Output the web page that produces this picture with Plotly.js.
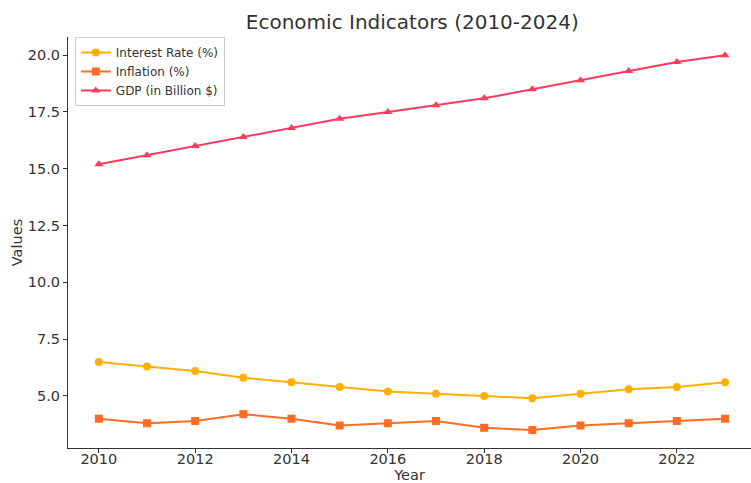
<!DOCTYPE html>
<html>
<head>
<meta charset="utf-8">
<script src="https://cdn.plot.ly/plotly-3.0.1.min.js"></script>
<style>html,body{margin:0;padding:0;background:#fff;overflow:hidden}</style>
</head>
<body>
<div id="chart" style="width:751px;height:483px"></div>
<script>
const years = [2010,2011,2012,2013,2014,2015,2016,2017,2018,2019,2020,2021,2022,2023];
const interestRate = [6.5,6.3,6.1,5.8,5.6,5.4,5.2,5.1,5.0,4.9,5.1,5.3,5.4,5.6];
const inflation = [4.0,3.8,3.9,4.2,4.0,3.7,3.8,3.9,3.6,3.5,3.7,3.8,3.9,4.0];
const gdp = [15.2,15.6,16.0,16.4,16.8,17.2,17.5,17.8,18.1,18.5,18.9,19.3,19.7,20.0];
const seriesNames = ["Interest Rate (%)","Inflation (%)","GDP (in Billion $)"];
const yTicks = [5.0,7.5,10.0,12.5,15.0,17.5,20.0];
const xTicks = [2010,2012,2014,2016,2018,2020,2022];

const font = "DejaVu Sans, sans-serif";
const traces = [
  {x: years, y: interestRate, name: seriesNames[0], mode: "lines+markers",
   line: {color: "#FFB000", width: 2}, marker: {symbol: "circle", size: 8, color: "#FFB000"}},
  {x: years, y: inflation, name: seriesNames[1], mode: "lines+markers",
   line: {color: "#FE6D22", width: 2}, marker: {symbol: "square", size: 8, color: "#FE6D22"}},
  {x: years, y: gdp, name: seriesNames[2], mode: "lines+markers",
   line: {color: "#FF3A5C", width: 2}, marker: {symbol: "triangle-up", size: 8, color: "#FF3A5C"}}
];
const layout = {
  width: 751, height: 483,
  margin: {l: 68, r: 0, t: 37, b: 35},
  paper_bgcolor: "#fff", plot_bgcolor: "#fff",
  font: {family: font, color: "#333", size: 14.5},
  title: {text: "Economic Indicators (2010-2024)", font: {family: font, size: 20, color: "#333"},
          x: 0.549, xanchor: "center", y: 0.955, yanchor: "middle"},
  showlegend: true,
  legend: {x: 0.01, y: 1.0, xanchor: "left", yanchor: "top",
           bgcolor: "rgba(255,255,255,0.8)", bordercolor: "#ccc", borderwidth: 1,
           font: {family: font, size: 12, color: "#333"}, tracegroupgap: 0},
  xaxis: {range: [2009.36, 2023.54], tickvals: xTicks, ticktext: xTicks.map(String),
          showgrid: false, zeroline: false, showline: true, linecolor: "#333", linewidth: 1,
          ticks: "outside", ticklen: 4, tickcolor: "#333", tickfont: {size: 14.5},
          ticklabelstandoff: -6,
          title: {text: "Year", font: {size: 14.5}, standoff: 5}},
  yaxis: {range: [2.71, 20.8], tickvals: yTicks, ticktext: yTicks.map(v => v.toFixed(1)),
          showgrid: false, zeroline: false, showline: true, linecolor: "#333", linewidth: 1,
          ticks: "outside", ticklen: 4, tickcolor: "#333", tickfont: {size: 14.5},
          title: {text: "Values", font: {size: 14.5}, standoff: 1}}
};
Plotly.newPlot("chart", traces, layout, {displayModeBar: false, staticPlot: true});
</script>
</body>
</html>
